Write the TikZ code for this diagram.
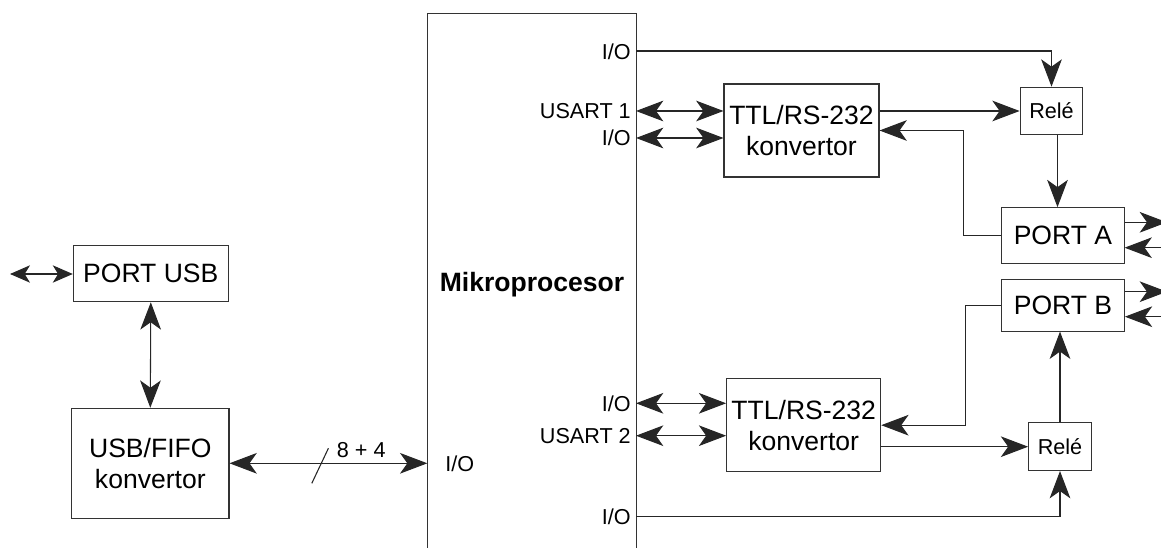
\documentclass[tikz,border=0pt]{standalone}
\usepackage{fontspec}
\setmainfont{Liberation Sans}
\usetikzlibrary{positioning, calc, arrows.meta}

\tikzset{
    bigtip/.tip={Stealth[length=20.5pt, width=15.5pt, inset=5.5pt]},
    smalltip/.tip={Stealth[length=15pt, width=13pt, inset=4pt]}
}

\begin{document}
\begin{tikzpicture}[
        x=0.75pt, y=-0.75pt,
        block/.style={rectangle, draw=black!80, line width=0.8pt, inner sep=0pt, align=center, font=\fontsize{19.9}{23}\selectfont},
        relay/.style={block, minimum width=47pt, minimum height=35.7pt, font=\fontsize{16.2}{19}\selectfont},
        pin_lbl/.style={inner sep=0pt, font=\fontsize{16.2}{19}\selectfont},
        arrow/.style={-bigtip, line width=0.8pt, draw=black!85},
        biarrow/.style={bigtip-bigtip, line width=0.8pt, draw=black!85},
        wire/.style={line width=0.8pt, draw=black!85}
    ]
        \useasboundingbox (0,0) rectangle (1161,548);
        \clip (0,0) rectangle (1161,548);

        % --- NODES ---
        \node[block, minimum width=116.25pt, minimum height=42.5pt] (usb) at (150.8,273.4) {PORT USB};
        \node[block, minimum width=118pt, minimum height=82.5pt] (fifo) at (150.3,463.3) {USB/FIFO\\konvertor};
        \node[block, minimum width=156.2pt, minimum height=440pt] (mcu) at (532,306.5) {};
        \node[font=\bfseries\fontsize{19.9}{23}\selectfont, inner sep=0pt] (mcutitle) at (532,285) {Mikroprocesor};
        \node[block, minimum width=116.25pt, minimum height=69.75pt] (ttla) at (801.5,130.5) {TTL/RS-232\\konvertor};
        \node[block, minimum width=115.5pt, minimum height=69.75pt] (ttlb) at (803.7,425.2) {TTL/RS-232\\konvertor};
        \node[relay] (relea) at (1051.5,111) {Relé};
        \node[relay] (releb) at (1060,446.7) {Relé};
        \node[block, minimum width=91.7pt, minimum height=41.7pt] (porta) at (1062.9,235.5) {PORT A};
        \node[block, minimum width=92pt, minimum height=38.8pt] (portb) at (1063,305.2) {PORT B};

        % --- PINS ---
        \coordinate (pin1) at (636,51);
        \coordinate (pin2) at (636,111);
        \coordinate (pin3) at (636,138);
        \coordinate (pin4) at (636,403.3);
        \coordinate (pin5) at (636,435.7);
        \coordinate (pin6) at (636,516.7);
        \node[pin_lbl, anchor=east] (lbl1) at (631,52) {I/O};
        \node[pin_lbl, anchor=east] (lbl2) at (631,111) {USART 1};
        \node[pin_lbl, anchor=east] (lbl3) at (631,138) {I/O};
        \node[pin_lbl, anchor=east] (lbl4) at (631,403.3) {I/O};
        \node[pin_lbl, anchor=east] (lbl5) at (631,435.7) {USART 2};
        \node[pin_lbl, anchor=east] (lbl6) at (631,516.7) {I/O};
        \node[pin_lbl, anchor=west] (lbl0) at (445,464) {I/O};

        % --- FREE ENDS ---
        \coordinate (usbext) at (10,274);
        \coordinate (paout) at (1167,222.3);
        \coordinate (pain) at (1161,247.7);
        \coordinate (pbout) at (1167,291.7);
        \coordinate (pbin) at (1161,316.7);

        % --- CONNECTIONS ---
        \draw[biarrow, smalltip-smalltip] (usbext) -- (usb.west |- usbext);
        \draw[biarrow] (usb.south) -- (fifo.north);
        \draw[biarrow] (fifo.east) -- coordinate[pos=0.458] (bus) (fifo.east -| mcu.west);
        \draw[wire] ($(bus)+(-8.3,20)$) -- ($(bus)+(8.3,-15)$);
        \node[pin_lbl, anchor=west] (buslbl) at (336.7,450) {8 + 4};

        \draw[arrow] (pin1) -| (relea.north);
        \draw[biarrow] (pin2) -- (pin2 -| ttla.west);
        \draw[biarrow] (pin3) -- (pin3 -| ttla.west);
        \draw[arrow] (ttla.east |- relea.west) -- (relea.west);
        \draw[arrow] ([xshift=4.5pt]relea.south) -- ([xshift=4.5pt]relea.south |- porta.north);
        \draw[arrow] (porta.west) -| ($(ttla.east)+(84,0)$) -- (ttla.east);

        \draw[biarrow] (pin4) -- (pin4 -| ttlb.west);
        \draw[biarrow] (pin5) -- (pin5 -| ttlb.west);
        \draw[arrow] (ttlb.east |- releb.west) -- (releb.west);
        \draw[arrow] (portb.west) -| ($(ttlb.east)+(84,0)$) -- (ttlb.east);
        \draw[arrow] (releb.north) -- (releb.north |- portb.south);
        \draw[arrow] (pin6) -| (releb.south);

        \draw[arrow] (porta.east |- paout) -- (paout);
        \draw[arrow] (pain) -- (porta.east |- pain);
        \draw[arrow] (portb.east |- pbout) -- (pbout);
        \draw[arrow] (pbin) -- (portb.east |- pbin);

    \end{tikzpicture}
\end{document}
